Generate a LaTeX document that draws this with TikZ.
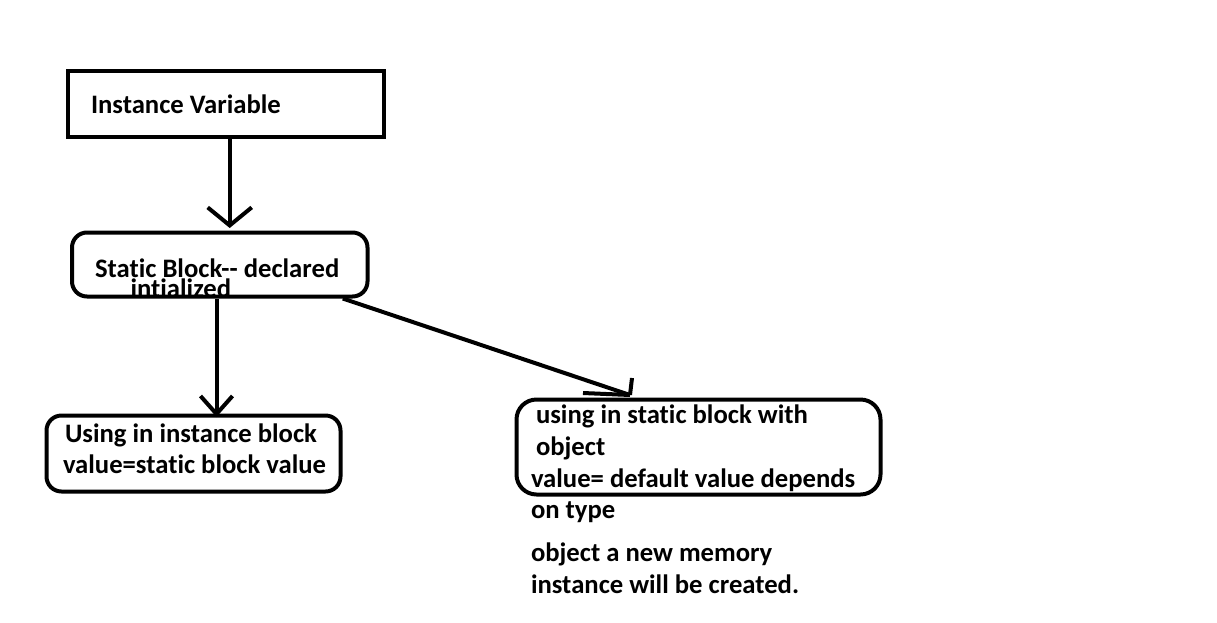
\documentclass[tikz,border=0pt]{standalone}
\usepackage{fontspec}
\setmainfont{Carlito}[Ligatures={TeX,NoCommon}]
\usetikzlibrary{arrows.meta}

\begin{document}
\begin{tikzpicture}[x=1pt, y=-1pt, line width=4pt,
	boks/.style={draw, rectangle, inner sep=0pt},
	rund/.style={boks, rounded corners=15pt},
	tekst/.style={anchor=base west, inner sep=0pt, font=\fontsize{26.67}{32}\selectfont\bfseries},
	pil/.style={-{Straight Barb[length=18pt, width=#1]}}]
	\useasboundingbox (0,0) rectangle (1217,622);

	%Boksene går her
	\node[boks, minimum width=316.5pt, minimum height=66pt] (iv) at (225.75,104) {};
	\node[rund, minimum width=295.5pt, minimum height=64pt] (sb) at (219.75,264.5) {};
	\node[rund, minimum width=294pt, minimum height=76pt] (ib) at (193.5,453.5) {};
	\node[rund, rounded corners=20pt, minimum width=364pt, minimum height=95pt] (so) at (698.5,447) {};

	%Tekstene går her
	\node[tekst] (t1) at (89,113) {Instance Variable};
	\node[tekst] (t2) at (93,277) {Static Block-\kern0pt- declared};
	\node[tekst] (t3) at (128.5,297) {intialized};
	\node[tekst] (t4) at (63,442) {Using in instance block};
	\node[tekst] (t5) at (61,473) {value=static block value};
	\node[tekst] (t6) at (534,423) {using in static block with};
	\node[tekst] (t7) at (534,455) {object};
	\node[tekst] (t8) at (529,487) {value= default value depends};
	\node[tekst] (t9) at (529,518) {on type};
	\node[tekst] (t10) at (529,561) {object a new memory};
	\node[tekst] (t11) at (529,593) {instance will be created.};

	%Pilene defineres her
	\coordinate (p1) at (229.7,228);
	\coordinate (p2) at (216.5,417);
	\coordinate (p3) at (630,395);
	\draw[pil=44pt] (iv.south -| p1) -- (p1);
	\draw[pil=32pt] (sb.south -| p2) -- (p2);
	\draw ([xshift=123pt]sb.south) -- (p3);
	\draw (p3) -- ++(-47,-2);
	\draw (p3) -- ++(2,-17);

\end{tikzpicture}
\end{document}
